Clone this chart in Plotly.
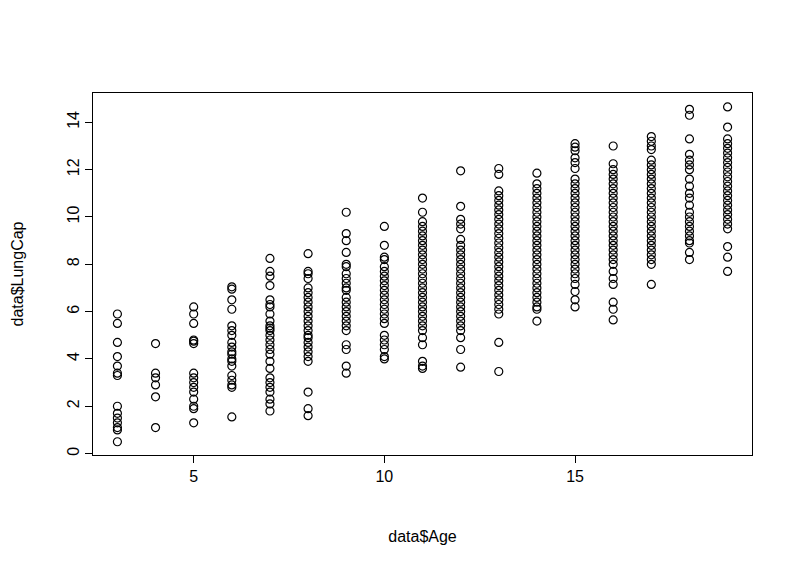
import plotly.graph_objects as go

# LungCap values, one list per age
age3 = [5.9, 5.5, 4.7, 4.1, 3.7, 3.4, 3.3, 2.0, 1.7, 1.5, 1.3, 1.1, 1.0, 0.5]
age4 = [4.65, 3.4, 3.2, 2.9, 2.4, 1.1]
age5 = [6.2, 5.9, 5.5, 4.8, 4.75, 4.65, 3.4, 3.2, 3.0, 2.8, 2.6, 2.3, 2.0, 1.9, 1.3]
age6 = [7.05, 6.95, 6.5, 6.1, 5.4, 5.2, 5.0, 4.7, 4.5, 4.3, 4.2, 4.0, 3.9, 3.7, 3.3, 3.1, 2.9, 2.8, 1.55]
age7 = [8.25, 7.7, 7.5, 7.1, 6.5, 6.3, 6.2, 5.9, 5.6, 5.4, 5.3, 5.2, 5.0, 4.8, 4.6, 4.4, 4.2,
        3.9, 3.6, 3.2, 3.0, 2.8, 2.6, 2.3, 2.1, 1.8]
age8 = [8.45, 7.7, 7.6, 7.4, 7.0, 6.8, 6.6, 6.4, 6.2, 6.0, 5.8, 5.6, 5.4, 5.2, 5.0, 4.9, 4.7,
        4.5, 4.3, 4.1, 3.9, 2.6, 1.9, 1.6]
age9 = [10.2, 9.3, 9.0, 8.5, 8.0, 7.9, 7.6, 7.4, 7.2, 7.0, 6.9, 6.6, 6.4, 6.2, 6.0, 5.8, 5.6,
        5.4, 5.2, 4.6, 4.4, 3.7, 3.4]
age10 = [9.6, 8.8, 8.3, 8.2, 7.9, 7.7, 7.5, 7.3, 7.1, 6.9, 6.7, 6.5, 6.3, 6.1, 5.9, 5.7, 5.5,
         5.0, 4.8, 4.6, 4.4, 4.1, 4.0]
age11 = [10.8, 10.2, 9.8, 9.6, 9.4, 9.2, 9.0, 8.8, 8.6, 8.4, 8.2, 8.0, 7.8, 7.6, 7.4, 7.2, 7.0,
         6.8, 6.6, 6.4, 6.2, 6.0, 5.8, 5.6, 5.4, 5.2, 4.9, 4.6, 3.9, 3.7, 3.6]
age12 = [11.95, 10.45, 9.9, 9.7, 9.5, 9.05, 8.8, 8.6, 8.4, 8.2, 8.0, 7.8, 7.6, 7.4, 7.2, 7.0,
         6.8, 6.6, 6.4, 6.2, 6.0, 5.8, 5.6, 5.4, 5.2, 4.9, 4.4, 3.65]
age13 = [12.05, 11.8, 11.1, 10.9, 10.7, 10.5, 10.3, 10.1, 9.9, 9.7, 9.5, 9.3, 9.1, 8.9, 8.7,
         8.5, 8.3, 8.1, 7.9, 7.7, 7.5, 7.3, 7.1, 6.9, 6.7, 6.5, 6.3, 6.1, 5.9, 4.7, 3.47]
age14 = [11.85, 11.4, 11.2, 11.0, 10.8, 10.6, 10.4, 10.2, 10.0, 9.8, 9.6, 9.4, 9.2, 9.0, 8.8,
         8.6, 8.4, 8.2, 8.0, 7.8, 7.6, 7.4, 7.2, 7.0, 6.8, 6.6, 6.4, 6.2, 6.1, 5.6]
age15 = [13.1, 12.95, 12.8, 12.5, 12.3, 12.05, 11.6, 11.4, 11.2, 11.0, 10.8, 10.6, 10.4, 10.2,
         10.0, 9.8, 9.6, 9.4, 9.2, 9.0, 8.8, 8.6, 8.4, 8.2, 8.0, 7.8, 7.6, 7.4, 7.15, 6.85,
         6.5, 6.2]
age16 = [13.0, 12.25, 12.0, 11.8, 11.6, 11.4, 11.2, 11.0, 10.8, 10.6, 10.4, 10.2, 10.0, 9.8,
         9.6, 9.4, 9.2, 9.0, 8.8, 8.6, 8.4, 8.2, 8.0, 7.7, 7.4, 7.15, 6.4, 6.1, 5.65]
age17 = [13.4, 13.2, 13.0, 12.85, 12.4, 12.2, 12.0, 11.8, 11.6, 11.4, 11.2, 11.0, 10.8, 10.6,
         10.4, 10.2, 10.0, 9.8, 9.6, 9.4, 9.2, 9.0, 8.8, 8.6, 8.4, 8.2, 8.0, 7.15]
age18 = [14.55, 14.3, 13.3, 12.65, 12.4, 12.2, 12.0, 11.6, 11.3, 11.0, 10.8, 10.5, 10.2, 10.0,
         9.8, 9.6, 9.4, 9.2, 9.0, 8.9, 8.5, 8.2]
age19 = [14.65, 13.8, 13.3, 13.1, 12.9, 12.7, 12.5, 12.3, 12.1, 11.9, 11.7, 11.5, 11.3, 11.1,
         10.9, 10.7, 10.5, 10.3, 10.1, 9.9, 9.7, 9.5, 8.75, 8.3, 7.7]

cols = [age3, age4, age5, age6, age7, age8, age9, age10, age11, age12,
        age13, age14, age15, age16, age17, age18, age19]
ages = list(range(3, 20))

xs = []
ys = []
for a, vals in zip(ages, cols):
    for v in vals:
        xs.append(a)
        ys.append(v)

fig = go.Figure()
fig.add_trace(go.Scatter(x=xs, y=ys, mode="markers",
                         marker=dict(symbol="circle-open", size=8, color="black",
                                     line=dict(width=1.2))))

ax = dict(showgrid=False, zeroline=False, showline=True, mirror=True, linecolor="black",
          linewidth=1, ticks="outside", ticklen=7, tickcolor="black", automargin=False,
          tickfont=dict(size=16, color="black"))
fig.update_layout(
    width=800, height=571,
    paper_bgcolor="white", plot_bgcolor="white",
    font=dict(family="Liberation Sans, Arial", color="black"),
    margin=dict(l=85, r=56, t=85, b=124),
    showlegend=False,
    xaxis=dict(ax, range=[2.36, 19.64], tickvals=[5, 10, 15],
               title=dict(text="data$Age", font=dict(size=16), standoff=46)),
    yaxis=dict(ax, range=[-0.06, 15.24], tickvals=[0, 2, 4, 6, 8, 10, 12, 14], tickangle=-90,
               title=dict(text="data$LungCap", font=dict(size=16), standoff=36)),
)

fig.write_html("out.html")
